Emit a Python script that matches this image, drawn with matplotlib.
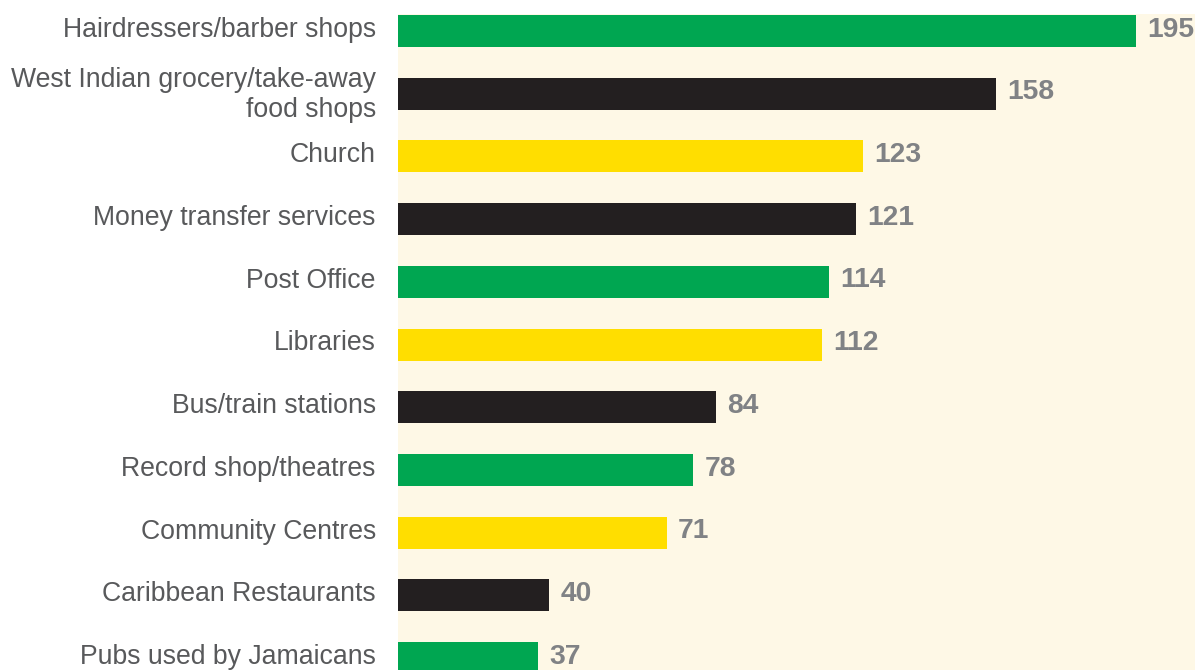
import matplotlib.pyplot as plt
import matplotlib.transforms as mtransforms

plt.rcParams['font.family'] = ['Liberation Sans', 'DejaVu Sans']

# Places used, most to least mentioned
places = ['Hairdressers/barber shops',
          'West Indian grocery/take-away\nfood shops',
          'Church',
          'Money transfer services',
          'Post Office',
          'Libraries',
          'Bus/train stations',
          'Record shop/theatres',
          'Community Centres',
          'Caribbean Restaurants',
          'Pubs used by Jamaicans']
counts = [195, 158, 123, 121, 114, 112, 84, 78, 71, 40, 37]

green = '#00a651'
black = '#231f20'
yellow = '#ffde00'
bar_colors = [green, black, yellow, black, green, yellow,
              black, green, yellow, black, green]

fig = plt.figure(figsize=(11.95, 6.70), dpi=100)
ax = fig.add_axes([398 / 1195, 0.0, 797 / 1195, (670 - 14) / 670])
ax.set_facecolor('#fef8e6')

ypos = list(range(len(places)))
bars = ax.barh(ypos, counts, height=0.51, color=bar_colors)

for b, v in zip(bars, counts):
    ax.annotate(str(v), (b.get_width(), b.get_y() + b.get_height() / 2),
                xytext=(8, 1), textcoords='offset points',
                ha='left', va='center', fontsize=20.3, fontweight='bold',
                color='#808285')

ax.set_xlim(0, 210.6)
ax.set_ylim(10.19, -0.271)
ax.set_yticks(ypos)
ax.set_yticklabels(places, fontsize=19.2, color='#58595b', ha='right',
                   linespacing=1.2)
ax.tick_params(axis='y', length=0, pad=16)
ax.set_xticks([])
for s in ax.spines.values():
    s.set_visible(False)

# nudge category labels up a little so they sit level with the bars
lift = mtransforms.ScaledTranslation(0, 3 / 72, fig.dpi_scale_trans)
for lbl in ax.get_yticklabels():
    lbl.set_transform(lbl.get_transform() + lift)

fig.savefig('out.png', dpi=100)
